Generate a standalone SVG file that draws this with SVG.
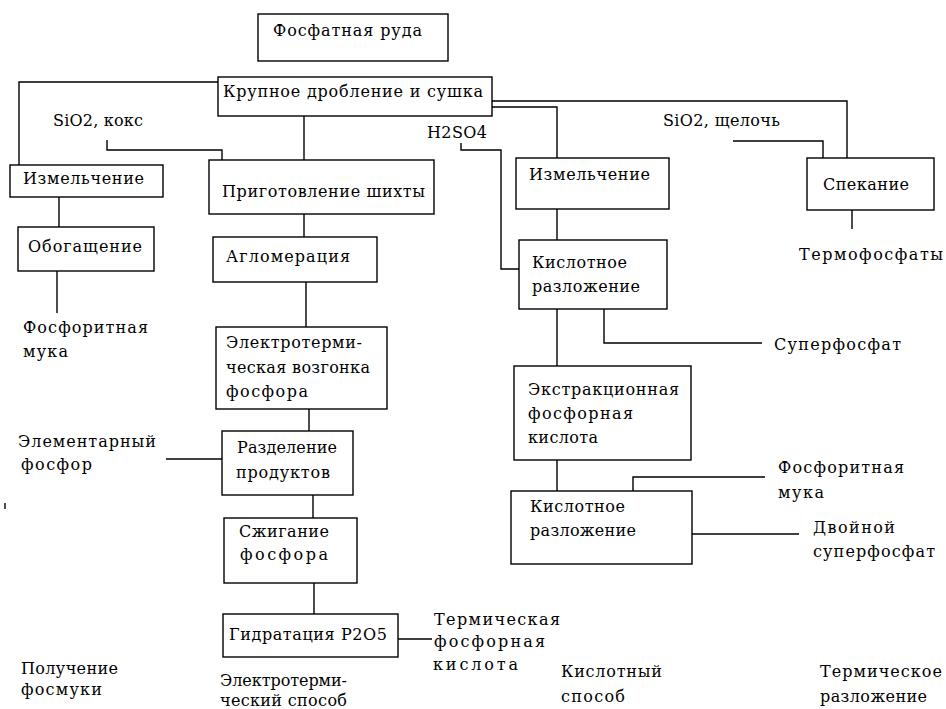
<svg xmlns="http://www.w3.org/2000/svg" width="946" height="709" viewBox="0 0 946 709">
<style>
.b{fill:#fff;stroke:#000;stroke-width:1.4}
.c{fill:none;stroke:#000;stroke-width:1.4}
.t text{font-family:'DejaVu Serif','Liberation Serif',serif;font-size:16px;fill:#000}
</style>
<rect width="946" height="709" fill="#fff"/>
<g id="connectors">
<polyline class="c" points="218,82 19,82 19,165"/>
<polyline class="c" points="107,140 107,150 222,150 222,160"/>
<line class="c" x1="304" y1="116" x2="304" y2="160"/>
<line class="c" x1="59" y1="197" x2="59" y2="227"/>
<polyline class="c" points="492,101 847,101 847,158"/>
<polyline class="c" points="492,107 557,107 557,158"/>
<polyline class="c" points="461,143 461,150 501,150 501,269 519,269"/>
<polyline class="c" points="733,141 823,141 823,158"/>
<line class="c" x1="852" y1="210" x2="852" y2="229"/>
<line class="c" x1="557" y1="209" x2="557" y2="240"/>
<line class="c" x1="57" y1="271" x2="57" y2="313"/>
<line class="c" x1="304" y1="214" x2="304" y2="237"/>
<line class="c" x1="306" y1="282" x2="306" y2="327"/>
<line class="c" x1="309" y1="409" x2="309" y2="431"/>
<line class="c" x1="166" y1="459" x2="222" y2="459"/>
<line class="c" x1="313" y1="495" x2="313" y2="518"/>
<line class="c" x1="314" y1="583" x2="314" y2="614"/>
<line class="c" x1="398" y1="639" x2="432" y2="639"/>
<line class="c" x1="557" y1="309" x2="557" y2="366"/>
<polyline class="c" points="604,309 604,343 762,343"/>
<line class="c" x1="557" y1="460" x2="557" y2="491"/>
<polyline class="c" points="633,491 633,477 765,477"/>
<line class="c" x1="692" y1="534" x2="799" y2="534"/>
<line class="c" x1="5" y1="503" x2="5" y2="509"/>
</g>
<g class="t">
<g id="n-ruda"><rect class="b" x="258" y="14" width="190" height="47"/><text x="273" y="36" textLength="149">Фосфатная руда</text></g>
<g id="n-drob"><rect class="b" x="218" y="77" width="274" height="39"/><text x="223" y="97" textLength="260">Крупное дробление и сушка</text></g>
<g id="n-izm1"><rect class="b" x="10" y="165" width="153" height="32"/><text x="23" y="184" textLength="121">Измельчение</text></g>
<g id="n-prig"><rect class="b" x="209" y="160" width="225" height="54"/><text x="222" y="197" textLength="203">Приготовление шихты</text></g>
<g id="n-izm2"><rect class="b" x="516" y="158" width="153" height="51"/><text x="529" y="180" textLength="121">Измельчение</text></g>
<g id="n-spek"><rect class="b" x="807" y="158" width="127" height="52"/><text x="823" y="190" textLength="86">Спекание</text></g>
<g id="n-obog"><rect class="b" x="18" y="227" width="136" height="44"/><text x="28" y="252" textLength="114">Обогащение</text></g>
<g id="n-aglo"><rect class="b" x="213" y="237" width="164" height="45"/><text x="226" y="262" textLength="124">Агломерация</text></g>
<g id="n-kisl1"><rect class="b" x="519" y="240" width="148" height="69"/><text x="532" y="268" textLength="95">Кислотное</text><text x="532" y="292" textLength="108">разложение</text></g>
<g id="n-elek"><rect class="b" x="216" y="327" width="171" height="82"/><text x="226" y="348" textLength="136">Электротерми-</text><text x="226" y="373" textLength="144">ческая возгонка</text><text x="226" y="397" textLength="82">фосфора</text></g>
<g id="n-extr"><rect class="b" x="514" y="366" width="177" height="94"/><text x="528" y="395" textLength="151">Экстракционная</text><text x="528" y="419" textLength="105">фосфорная</text><text x="528" y="443" textLength="70">кислота</text></g>
<g id="n-razd"><rect class="b" x="222" y="431" width="131" height="64"/><text x="237" y="453" textLength="100">Разделение</text><text x="236" y="478" textLength="94">продуктов</text></g>
<g id="n-kisl2"><rect class="b" x="511" y="491" width="181" height="73"/><text x="530" y="512" textLength="95">Кислотное</text><text x="530" y="536" textLength="106">разложение</text></g>
<g id="n-szhig"><rect class="b" x="224" y="518" width="133" height="65"/><text x="239" y="537" textLength="90">Сжигание</text><text x="240" y="560" textLength="88">фосфора</text></g>
<g id="n-gidr"><rect class="b" x="223" y="614" width="175" height="43"/><text x="229" y="640" textLength="158">Гидратация P2O5</text></g>
<g id="labels">
<text x="53" y="126" textLength="90">SiO2, кокс</text>
<text x="427" y="138" textLength="60">H2SO4</text>
<text x="663" y="126" textLength="117">SiO2, щелочь</text>
<text x="799" y="260" textLength="144">Термофосфаты</text>
<text x="23" y="333" textLength="125">Фосфоритная</text>
<text x="23" y="357" textLength="45">мука</text>
<text x="774" y="350" textLength="127">Суперфосфат</text>
<text x="18" y="447" textLength="138">Элементарный</text>
<text x="21" y="470" textLength="71">фосфор</text>
<text x="778" y="473" textLength="126">Фосфоритная</text>
<text x="778" y="498" textLength="46">мука</text>
<text x="813" y="533" textLength="82">Двойной</text>
<text x="813" y="557" textLength="122">суперфосфат</text>
<text x="434" y="625" textLength="126">Термическая</text>
<text x="434" y="647" textLength="111">фосфорная</text>
<text x="433" y="670" textLength="85">кислота</text>
<text x="21" y="674" textLength="97">Получение</text>
<text x="21" y="695" textLength="81">фосмуки</text>
<text x="220" y="686" textLength="127">Электротерми-</text>
<text x="220" y="706" textLength="127">ческий способ</text>
<text x="561" y="677" textLength="101">Кислотный</text>
<text x="561" y="702" textLength="64">способ</text>
<text x="820" y="677" textLength="122">Термическое</text>
<text x="820" y="702" textLength="107">разложение</text>
</g>
</g>
</svg>
